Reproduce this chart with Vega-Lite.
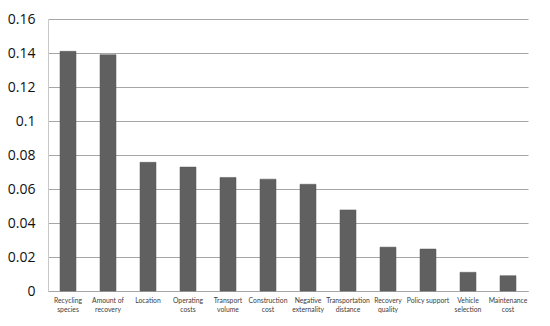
{
  "$schema": "https://vega.github.io/schema/vega-lite/v6.json",
  "width": 480,
  "height": 272,
  "autosize": {"type": "none"},
  "padding": {"left": 48, "top": 19, "right": 22, "bottom": 35},
  "background": "white",
  "data": {
    "values": [
      {"factor": "Recycling species", "weight": 0.141},
      {"factor": "Amount of recovery", "weight": 0.139},
      {"factor": "Location", "weight": 0.0757},
      {"factor": "Operating costs", "weight": 0.0729},
      {"factor": "Transport volume", "weight": 0.0668},
      {"factor": "Construction cost", "weight": 0.0658},
      {"factor": "Negative externality", "weight": 0.0628},
      {"factor": "Transportation distance", "weight": 0.0477},
      {"factor": "Recovery quality", "weight": 0.0258},
      {"factor": "Policy support", "weight": 0.0247},
      {"factor": "Vehicle selection", "weight": 0.011},
      {"factor": "Maintenance cost", "weight": 0.009}
    ]
  },
  "mark": {"type": "bar", "color": "#606060", "stroke": "#555555", "strokeWidth": 0.5},
  "encoding": {
    "x": {
      "field": "factor",
      "type": "nominal",
      "sort": null,
      "scale": {"paddingInner": 0.6, "paddingOuter": 0.3},
      "axis": {
        "title": null,
        "labelAngle": 0,
        "ticks": false,
        "labelPadding": 6,
        "labelFont": "Lato",
        "labelFontSize": 6.8,
        "labelColor": "#404040",
        "labelLineHeight": 9,
        "labelBaseline": "top",
        "labelLimit": 0,
        "domainColor": "#a6a6a6",
        "labelExpr": "{'Recycling species':['Recycling','species'],'Amount of recovery':['Amount of','recovery'],'Location':'Location','Operating costs':['Operating','costs'],'Transport volume':['Transport','volume'],'Construction cost':['Construction','cost'],'Negative externality':['Negative','externality'],'Transportation distance':['Transportation','distance'],'Recovery quality':['Recovery','quality'],'Policy support':'Policy support','Vehicle selection':['Vehicle','selection'],'Maintenance cost':['Maintenance','cost']}[datum.value]"
      }
    },
    "y": {
      "field": "weight",
      "type": "quantitative",
      "scale": {"domain": [0, 0.16], "nice": false},
      "axis": {
        "title": null,
        "values": [0, 0.02, 0.04, 0.06, 0.08, 0.1, 0.12, 0.14, 0.16],
        "labelExpr": "datum.value == 0 ? '0' : format(datum.value, '~g')",
        "ticks": false,
        "labelPadding": 13,
        "labelFont": "Open Sans",
        "labelFontSize": 14,
        "labelColor": "#111111",
        "grid": true,
        "gridColor": "#a6a6a6",
        "gridWidth": 1,
        "domainColor": "#c8c8c8"
      }
    }
  },
  "config": {"view": {"stroke": null}}
}
